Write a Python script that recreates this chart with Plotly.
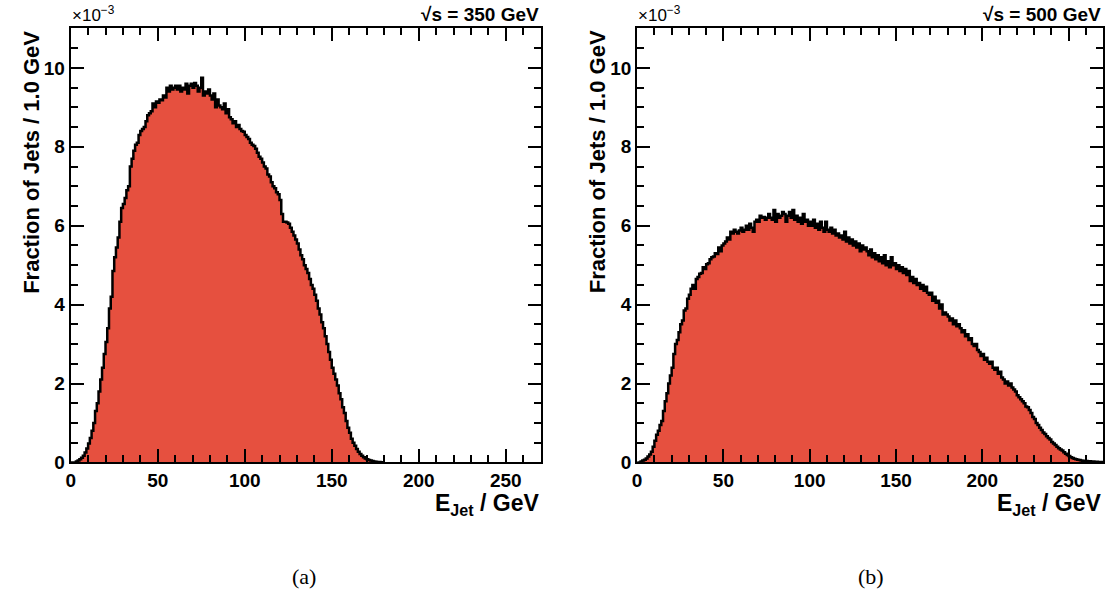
import plotly.graph_objects as go

# Bin lower edges in GeV (1 GeV bins); values are fraction of jets per GeV in units of 1e-3
frac_350 = [
    0, 0, 0, 0.02, 0.05, 0.08, 0.12, 0.17, 0.25, 0.35,
    0.48, 0.62, 0.8, 1.0, 1.3, 1.5, 1.8, 2.1, 2.4, 2.75,
    3.05, 3.4, 3.9, 4.2, 4.85, 5.2, 5.45, 5.7, 6.1, 6.45,
    6.55, 6.7, 6.9, 7.0, 7.5, 7.7, 7.9, 8.05, 8.1, 8.3,
    8.4, 8.45, 8.5, 8.65, 8.8, 8.85, 8.9, 9.1, 9.0, 9.15,
    9.12, 9.2, 9.18, 9.3, 9.25, 9.5, 9.4, 9.55, 9.45, 9.5,
    9.55, 9.45, 9.55, 9.4, 9.5, 9.45, 9.6, 9.35, 9.55, 9.6,
    9.5, 9.62, 9.55, 9.4, 9.5, 9.75, 9.3, 9.4, 9.35, 9.45,
    9.3, 9.2, 9.35, 9.0, 9.2, 9.05, 9.0, 8.95, 9.1, 8.85,
    8.95, 8.75, 8.7, 8.6, 8.65, 8.5, 8.55, 8.45, 8.4, 8.38,
    8.3, 8.25, 8.2, 8.1, 8.05, 8.02, 7.95, 7.85, 7.75, 7.7,
    7.6, 7.5, 7.45, 7.3, 7.25, 7.1, 7.0, 6.95, 6.85, 6.8,
    6.65, 6.3, 6.1, 6.1, 6.08, 6.05, 5.95, 5.85, 5.75, 5.65,
    5.55, 5.4, 5.25, 5.15, 5.0, 4.9, 4.8, 4.65, 4.5, 4.4,
    4.25, 4.1, 3.9, 3.75, 3.55, 3.4, 3.2, 3.0, 2.8, 2.6,
    2.4, 2.25, 2.1, 1.95, 1.75, 1.6, 1.4, 1.25, 1.05, 0.88,
    0.75, 0.6, 0.5, 0.42, 0.34, 0.27, 0.21, 0.17, 0.13, 0.1,
    0.08, 0.06, 0.05, 0.035, 0.025, 0.018, 0.012, 0.008, 0.005, 0.003,
]

frac_500 = [
    0, 0, 0.02, 0.05, 0.07, 0.1, 0.15, 0.2, 0.27, 0.4,
    0.55, 0.7, 0.8, 0.95, 1.05, 1.3, 1.55, 1.75, 2.0, 2.2,
    2.4, 2.75, 3.0, 3.1, 3.3, 3.5, 3.6, 3.85, 3.9, 4.15,
    4.25, 4.4, 4.5, 4.4, 4.65, 4.7, 4.78, 4.8, 4.95, 4.9,
    5.02, 5.05, 5.15, 5.2, 5.22, 5.3, 5.28, 5.45, 5.35, 5.5,
    5.55, 5.6, 5.7, 5.65, 5.85, 5.8, 5.9, 5.85, 5.8, 5.88,
    5.95, 5.85, 5.9, 6.0, 5.9, 6.05, 5.95, 5.85, 6.1, 6.15,
    6.1, 6.25, 6.2, 6.22, 6.15, 6.2, 6.3, 6.2, 6.15, 6.4,
    6.1, 6.3, 6.2, 6.25, 6.35, 6.3, 6.1, 6.25, 6.35, 6.2,
    6.4, 6.15, 6.25, 6.1, 6.2, 6.05, 6.3, 6.1, 6.15, 6.0,
    6.1, 6.0, 6.15, 5.95, 6.05, 5.9, 6.1, 5.95, 5.85, 6.1,
    5.9, 5.85, 5.95, 5.8, 5.9, 5.75, 5.8, 5.7, 5.75, 5.65,
    5.85, 5.6, 5.7, 5.55, 5.65, 5.5, 5.6, 5.45, 5.55, 5.35,
    5.5, 5.4, 5.45, 5.35, 5.25, 5.4, 5.2, 5.3, 5.15, 5.25,
    5.1, 5.2, 5.05, 5.25, 5.0, 5.1, 4.95, 5.2, 5.0, 5.05,
    4.9, 5.0, 4.85, 4.95, 4.8, 4.9, 4.75, 4.85, 4.6, 4.7,
    4.55, 4.65, 4.5, 4.55, 4.4, 4.5, 4.35, 4.45, 4.3, 4.25,
    4.3, 4.1, 4.2, 4.05, 4.1, 3.9, 4.0, 3.75, 3.8, 3.75,
    3.7, 3.6, 3.65, 3.5, 3.6, 3.45, 3.5, 3.4, 3.3, 3.35,
    3.2, 3.25, 3.1, 3.15, 3.0, 2.95, 3.0, 2.85, 2.8, 2.7,
    2.75, 2.6, 2.65, 2.55, 2.5, 2.55, 2.4, 2.35, 2.4, 2.25,
    2.3, 2.15, 2.1, 2.0, 2.05, 1.95, 2.0, 1.9, 1.85, 1.8,
    1.7, 1.65, 1.6, 1.55, 1.5, 1.42, 1.4, 1.33, 1.25, 1.15,
    1.1, 1.0, 0.95, 0.88, 0.82, 0.76, 0.72, 0.66, 0.62, 0.58,
    0.52, 0.48, 0.44, 0.4, 0.36, 0.33, 0.3, 0.26, 0.22, 0.19,
    0.16, 0.13, 0.11, 0.09, 0.08, 0.07, 0.06, 0.05, 0.045, 0.04,
    0.035, 0.03, 0.028, 0.025, 0.02, 0.018, 0.015, 0.012, 0.01, 0.008,
]

panel_energy = ["350", "500"]
captions = ["(a)", "(b)"]
x_ticks = [0, 50, 100, 150, 200, 250]
y_ticks = [0, 2, 4, 6, 8, 10]

FILL = "#E6503F"
W, H = 1112, 603
x_doms = [[66 / W, 538 / W], [635 / W, 1103 / W]]
y_dom = [(H - 471) / H, (H - 29) / H]

fig = go.Figure()

for i, vals in enumerate([frac_350, frac_500]):
    edges = list(range(len(vals) + 1))
    ys = list(vals) + [vals[-1]]
    fig.add_trace(go.Scatter(
        x=edges, y=ys, mode="lines", line_shape="hv",
        line=dict(color="black", width=2.5),
        fill="tozeroy", fillcolor=FILL,
        xaxis="x" if i == 0 else "x2", yaxis="y" if i == 0 else "y2",
        showlegend=False, hoverinfo="skip",
    ))

tickfont = dict(family="Liberation Sans", size=19, color="black")
axis_common = dict(
    showgrid=False, zeroline=False, showline=True, linecolor="black", linewidth=2,
    mirror="allticks", ticks="inside", tickcolor="black", tickwidth=2,
    tickfont=tickfont,
)

layout = dict(
    width=W, height=H, autosize=False, margin=dict(l=0, r=0, t=0, b=0),
    paper_bgcolor="white", plot_bgcolor="white",
    font=dict(family="Liberation Sans", color="black"),
    hovermode=False,
)
for i in range(2):
    sx = "" if i == 0 else "2"
    layout["xaxis" + sx] = dict(
        axis_common, domain=x_doms[i], range=[0, 270], anchor="y" + sx,
        tickvals=x_ticks, ticktext=[f"<b>{t}</b>" for t in x_ticks], ticklen=13,
        minor=dict(dtick=10, tick0=0, ticklen=7, tickwidth=2, tickcolor="black", ticks="inside"),
    )
    layout["yaxis" + sx] = dict(
        axis_common, domain=y_dom, range=[0, 11], anchor="x" + sx,
        tickvals=y_ticks, ticktext=[f"<b>{t}</b>" for t in y_ticks], ticklen=13,
        minor=dict(dtick=0.5, tick0=0, ticklen=7, tickwidth=2, tickcolor="black", ticks="inside"),
    )
fig.update_layout(**layout)

ann = []
for i in range(2):
    x0 = x_doms[i][0] * W
    x1 = x_doms[i][1] * W
    ann.append(dict(x=x0 - 1, y=H - 27, xref="paper", yref="paper", xanchor="left", yanchor="bottom",
                    text="×10<sup>−3</sup>", showarrow=False,
                    font=dict(family="Liberation Sans", size=17, color="black")))
    ann.append(dict(x=x1, y=H - 27, xref="paper", yref="paper", xanchor="right", yanchor="bottom",
                    text=f"<b>√s = {panel_energy[i]} GeV</b>", showarrow=False,
                    font=dict(family="Liberation Sans", size=19, color="black")))
    ann.append(dict(x=x1, y=H - 497, xref="paper", yref="paper", xanchor="right", yanchor="top",
                    text="<b>E<sub>Jet</sub> / GeV</b>", showarrow=False,
                    font=dict(family="Liberation Sans", size=23, color="black")))
    ann.append(dict(x=x0 - 39, y=y_dom[1] * H, xref="paper", yref="paper", xanchor="center", yanchor="top",
                    text="<b>Fraction of Jets / 1.0 GeV</b>", textangle=-90, showarrow=False,
                    font=dict(family="Liberation Sans", size=22, color="black")))
    ann.append(dict(x=[300, 870][i], y=H - 587, xref="paper", yref="paper", xanchor="center", yanchor="middle",
                    text=captions[i], showarrow=False,
                    font=dict(family="Liberation Serif", size=22, color="black")))

for a in ann:
    a["x"] = a["x"] / W
    a["y"] = a["y"] / H
fig.update_layout(annotations=ann)

fig.write_html(
    "out.html",
    config={"responsive": False, "displayModeBar": False, "staticPlot": True},
    post_script="document.body.style.margin='0';document.body.style.overflow='hidden';",
)
